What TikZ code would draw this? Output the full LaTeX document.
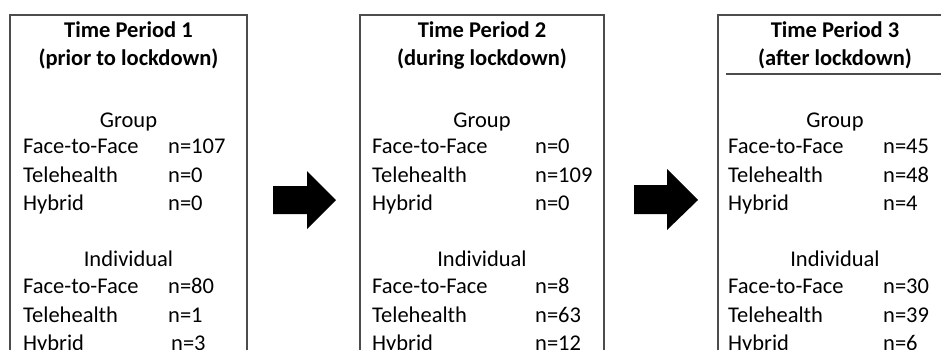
\documentclass[tikz,border=0pt]{standalone}
\usepackage{fontspec}
\setmainfont{Carlito}
\begin{document}
\begin{tikzpicture}[x=1pt, y=-1pt,
	frame/.style={line width=1.3pt, black!70},
	blockarrow/.style={fill=black},
	title/.style={anchor=base, inner sep=0pt, font=\fontsize{22.5}{27}\selectfont\bfseries},
	heading/.style={anchor=base, inner sep=0pt, font=\fontsize{22.5}{27}\selectfont},
	entry/.style={anchor=base west, inner sep=0pt, font=\fontsize{22.5}{27}\selectfont}]
	\useasboundingbox (0,0) rectangle (941,349);
	\clip (0,0) rectangle (941,349);
	\fill[white] (0,0) rectangle (941,349);
	
	% draw the three boxes (open at the bottom)
	\draw[frame] (10,370) -- (10,15) -- (247,15) -- (247,370);
	\draw[frame] (360,370) -- (360,15) -- (604,15) -- (604,370);
	\draw[frame] (718,370) -- (718,15) -- (960,15);
	\draw[frame] (726,74) -- (960,74);
	
	% draw block arrows
	\fill[blockarrow] (273,186) -- (307,186) -- (307,171) -- (336,200) -- (307,229) -- (307,214) -- (273,214) -- cycle;
	\fill[blockarrow] (634,185) -- (667,185) -- (667,169) -- (698,200) -- (667,230) -- (667,214) -- (634,214) -- cycle;
	
	% time period 1
	\node[title] (p1a) at (128.5,37) {Time Period 1};
	\node[title] (p1b) at (128.5,65) {(prior to lockdown)};
	\node[heading] (p1g) at (128.5,127) {Group};
	\node[entry] (p1gf) at (23,153) {Face-to-Face};
	\node[entry] (p1gfn) at (168,153) {n=107};
	\node[entry] (p1gt) at (23,182) {Telehealth};
	\node[entry] (p1gtn) at (168,182) {n=0};
	\node[entry] (p1gh) at (23,210) {Hybrid};
	\node[entry] (p1ghn) at (168,210) {n=0};
	\node[heading] (p1i) at (128.5,266) {Individual};
	\node[entry] (p1if) at (23,293) {Face-to-Face};
	\node[entry] (p1ifn) at (168,293) {n=80};
	\node[entry] (p1it) at (23,322) {Telehealth};
	\node[entry] (p1itn) at (168,322) {n=1};
	\node[entry] (p1ih) at (23,350) {Hybrid};
	\node[entry] (p1ihn) at (171,350) {n=3};
	
	% time period 2
	\node[title] (p2a) at (482,37) {Time Period 2};
	\node[title] (p2b) at (482,65) {(during lockdown)};
	\node[heading] (p2g) at (482,127) {Group};
	\node[entry] (p2gf) at (372,153) {Face-to-Face};
	\node[entry] (p2gfn) at (535,153) {n=0};
	\node[entry] (p2gt) at (372,182) {Telehealth};
	\node[entry] (p2gtn) at (535,182) {n=109};
	\node[entry] (p2gh) at (372,210) {Hybrid};
	\node[entry] (p2ghn) at (535,210) {n=0};
	\node[heading] (p2i) at (482,266) {Individual};
	\node[entry] (p2if) at (372,293) {Face-to-Face};
	\node[entry] (p2ifn) at (535,293) {n=8};
	\node[entry] (p2it) at (372,322) {Telehealth};
	\node[entry] (p2itn) at (535,322) {n=63};
	\node[entry] (p2ih) at (372,350) {Hybrid};
	\node[entry] (p2ihn) at (535,350) {n=12};
	
	% time period 3
	\node[title] (p3a) at (835,37) {Time Period 3};
	\node[title] (p3b) at (835,65) {(after lockdown)};
	\node[heading] (p3g) at (835,127) {Group};
	\node[entry] (p3gf) at (728,153) {Face-to-Face};
	\node[entry] (p3gfn) at (883,153) {n=45};
	\node[entry] (p3gt) at (728,182) {Telehealth};
	\node[entry] (p3gtn) at (883,182) {n=48};
	\node[entry] (p3gh) at (728,210) {Hybrid};
	\node[entry] (p3ghn) at (883,210) {n=4};
	\node[heading] (p3i) at (835,266) {Individual};
	\node[entry] (p3if) at (728,293) {Face-to-Face};
	\node[entry] (p3ifn) at (883,293) {n=30};
	\node[entry] (p3it) at (728,322) {Telehealth};
	\node[entry] (p3itn) at (883,322) {n=39};
	\node[entry] (p3ih) at (728,350) {Hybrid};
	\node[entry] (p3ihn) at (883,350) {n=6};
\end{tikzpicture}
\end{document}
